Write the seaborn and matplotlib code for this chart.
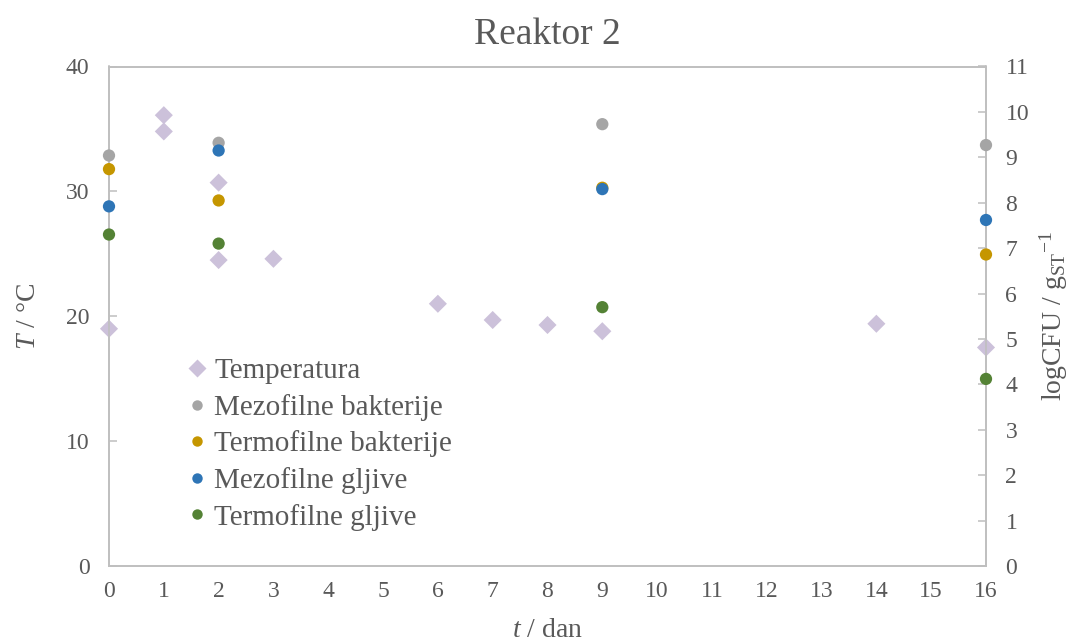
import matplotlib
matplotlib.use("Agg")
import matplotlib.pyplot as plt
import seaborn as sns
import pandas as pd
from matplotlib.lines import Line2D

# ---- data ----
temp_days = [0, 1, 1, 2, 2, 3, 6, 7, 8, 9, 14, 16]
temp_vals = [19.0, 36.1, 34.8, 30.7, 24.5, 24.6, 21.0, 19.7, 19.3, 18.8, 19.4, 17.5]

mb_days = [0, 2, 9, 16]
mb_vals = [9.04, 9.32, 9.73, 9.27]          # Mezofilne bakterije

tb_days = [0, 2, 9, 16]
tb_vals = [8.74, 8.05, 8.33, 6.86]          # Termofilne bakterije

mg_days = [0, 2, 9, 16]
mg_vals = [7.92, 9.15, 8.30, 7.62]          # Mezofilne gljive

tg_days = [0, 2, 9, 16]
tg_vals = [7.30, 7.10, 5.70, 4.12]          # Termofilne gljive

x_ticks = list(range(0, 17))
left_ticks = [0, 10, 20, 30, 40]
right_ticks = list(range(0, 12))

# ---- style ----
sns.set_style("white")
plt.rcParams['font.family'] = ['Liberation Serif', 'DejaVu Serif']
plt.rcParams['mathtext.fontset'] = 'custom'
plt.rcParams['mathtext.rm'] = 'Liberation Serif'
plt.rcParams['mathtext.it'] = 'Liberation Serif:italic'

txt = '#595959'
spine_c = '#BFBFBF'
c_temp = '#CCC1DA'
c_mb = '#A5A5A5'
c_tb = '#C59600'
c_mg = '#2E75B6'
c_tg = '#548235'

fig = plt.figure(figsize=(10.76, 6.42), dpi=100)
ax = fig.add_axes([109/1076, 1-566/642, (986-109)/1076, (566-66.5)/642])
ax2 = ax.twinx()

temp_df = pd.DataFrame({'dan': temp_days, 'T': temp_vals})
sns.scatterplot(data=temp_df, x='dan', y='T', ax=ax, marker='D', s=85,
                color=c_temp, edgecolor='none', clip_on=False, legend=False, zorder=3)

series = [
    ('Mezofilne bakterije', mb_days, mb_vals, c_mb),
    ('Termofilne bakterije', tb_days, tb_vals, c_tb),
    ('Mezofilne gljive', mg_days, mg_vals, c_mg),
    ('Termofilne gljive', tg_days, tg_vals, c_tg),
]
for name, d, v, c in series:
    df = pd.DataFrame({'dan': d, 'cfu': v})
    sns.scatterplot(data=df, x='dan', y='cfu', ax=ax2, marker='o', s=78,
                    color=c, edgecolor='none', clip_on=False, legend=False, zorder=3)

ax.set_xlim(0, 16)
ax.set_ylim(0, 40)
ax2.set_ylim(0, 11)
ax.set_xticks(x_ticks)
ax.set_yticks(left_ticks)
ax2.set_yticks(right_ticks)

for a in (ax, ax2):
    for s in a.spines.values():
        s.set_color(spine_c)
        s.set_linewidth(1.2)
    a.tick_params(direction='in', length=6, width=1.1, color=spine_c,
                  labelcolor=txt, labelsize=17)
ax.tick_params(axis='x', pad=11)
ax.tick_params(axis='y', pad=14)
ax2.tick_params(axis='y', pad=14)

ax.set_xlabel(r'$\mathit{t}$ / dan', fontsize=20, color=txt, labelpad=11)
ax.set_ylabel(r'$\mathit{T}$ / °C', fontsize=20, color=txt, labelpad=18)
ax2.set_ylabel(r'logCFU / g$_{\mathregular{ST}}$$^{\mathregular{-1}}$', fontsize=20,
               color=txt, labelpad=6)
ax.set_title('Reaktor 2', fontsize=27, color=txt, pad=16)

handles = [Line2D([], [], marker='D', linestyle='none', markersize=9,
                  markerfacecolor=c_temp, markeredgecolor='none')]
labels = ['Temperatura']
for name, d, v, c in series:
    handles.append(Line2D([], [], marker='o', linestyle='none', markersize=7.5,
                          markerfacecolor=c, markeredgecolor='none'))
    labels.append(name)
leg = ax2.legend(handles, labels, loc='upper left', bbox_to_anchor=(0.077, 0.44),
                 frameon=False, fontsize=21, labelspacing=0.33, handlelength=0.6,
                 handletextpad=0.3, borderaxespad=0)
for t in leg.get_texts():
    t.set_color(txt)

fig.savefig('out.png', dpi=100)
